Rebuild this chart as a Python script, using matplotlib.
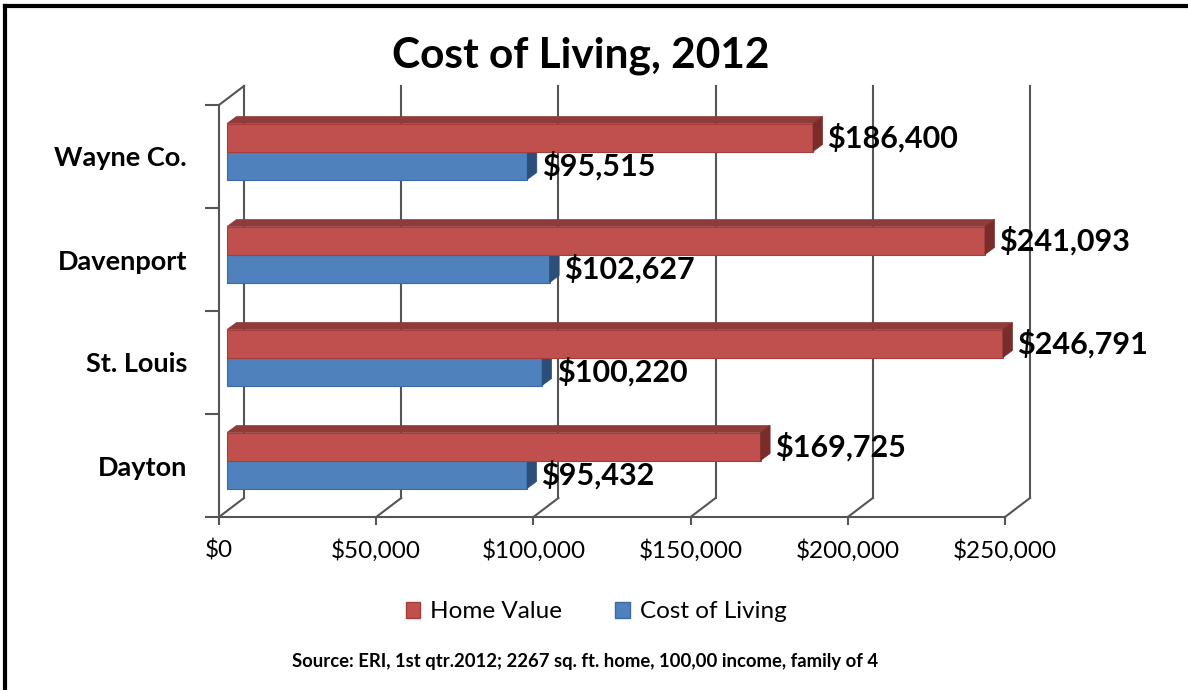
import matplotlib.pyplot as plt
from matplotlib.patches import Polygon, Patch
from matplotlib.ticker import FuncFormatter

plt.rcParams['font.family'] = ['Lato', 'DejaVu Sans']

cities = ['Dayton', 'St. Louis', 'Davenport', 'Wayne Co.']
home_value = [169725, 246791, 241093, 186400]
cost_of_living = [95432, 100220, 102627, 95515]
x_ticks = [0, 50000, 100000, 150000, 200000, 250000]

red, red_top, red_side, red_edge = '#C0504D', '#8E3B39', '#7A2C2A', '#A53E3B'
blue, blue_side, blue_edge = '#4F81BD', '#2C4E79', '#3C6AA6'
grid_col = '#555555'

fig = plt.figure(figsize=(11.88, 6.90), dpi=100)
W, H = 1188, 690

# front plane: $0 at x=219px, $250k at 1005px; y 0..4 -> 517..105px
px = 250000 / 786          # dollars per pixel
py = 1 / 103               # category units per pixel
ax = fig.add_axes([219 / W, (H - 517) / H, 811 / W, 430 / H])
ax.set_xlim(0, 811 * px)
ax.set_ylim(0, 430 * py)

# depth of the 3D box and of the bars
DX, DY = 25 * px, 19 * py
ox, oy = 8 * px, 5 * py
bx, by = 9.5 * px, 7 * py
h = 28 * py

# back wall gridlines and floor diagonals
for v in x_ticks:
    ax.plot([v, v + DX], [0, DY], color=grid_col, lw=1.5, zorder=1, clip_on=False)
    ax.plot([v + DX, v + DX], [DY, 4 + DY], color=grid_col, lw=1.5, zorder=1, clip_on=False)
ax.plot([0, DX], [4, 4 + DY], color=grid_col, lw=1.5, zorder=1, clip_on=False)

for i, (hv, cl) in enumerate(zip(home_value, cost_of_living)):
    c = i + 0.5 + oy
    # cost of living (lower bar)
    b0, b1 = c - h, c
    ax.barh(c - h / 2, cl, height=h, left=ox, color=blue, edgecolor=blue_edge,
            lw=0.8, zorder=3)
    ax.add_patch(Polygon([(ox + cl, b0), (ox + cl, b1), (ox + cl + bx, b1 + by),
                          (ox + cl + bx, b0 + by)], closed=True, fc=blue_side,
                         ec=blue_side, lw=0.5, zorder=3))
    ax.text(ox + cl + bx + 5 * px, c - h / 2, f'${cl:,.0f}', fontsize=22,
            fontweight='bold', va='center', ha='left', zorder=6)
    # home value (upper bar)
    r0, r1 = c, c + h
    ax.barh(c + h / 2, hv, height=h, left=ox, color=red, edgecolor=red_edge,
            lw=0.8, zorder=4)
    ax.add_patch(Polygon([(ox, r1), (ox + bx, r1 + by), (ox + hv + bx, r1 + by),
                          (ox + hv, r1)], closed=True, fc=red_top, ec=red_top,
                         lw=0.5, zorder=4))
    ax.add_patch(Polygon([(ox + hv, r0), (ox + hv, r1), (ox + hv + bx, r1 + by),
                          (ox + hv + bx, r0 + by)], closed=True, fc=red_side,
                         ec=red_side, lw=0.5, zorder=4))
    ax.text(ox + hv + bx + 5 * px, c + h / 2, f'${hv:,.0f}', fontsize=22,
            fontweight='bold', va='center', ha='left', zorder=6)

for s in ['top', 'right']:
    ax.spines[s].set_visible(False)
ax.spines['left'].set_bounds(0, 4)
ax.spines['bottom'].set_bounds(0, 250000)
for s in ['left', 'bottom']:
    ax.spines[s].set_color(grid_col)
    ax.spines[s].set_linewidth(1.5)

ax.set_xticks(x_ticks)
ax.xaxis.set_major_formatter(FuncFormatter(lambda v, p: f'${v:,.0f}'))
ax.tick_params(axis='x', length=6, width=1.5, color=grid_col, pad=10, labelsize=17.5)

ax.set_yticks([0, 1, 2, 3, 4])
ax.set_yticklabels([])
ax.set_yticks([i + 0.5 for i in range(4)], minor=True)
ax.set_yticklabels(cities, minor=True, fontsize=19.5, fontweight='bold')
ax.tick_params(axis='y', which='major', length=10, width=1.5, color=grid_col)
ax.tick_params(axis='y', which='minor', length=0, pad=23)

fig.text(581 / W, 1 - 56 / H, 'Cost of Living, 2012', ha='center', va='center',
         fontsize=30.5, fontweight='bold')

handles = [Patch(fc=red, ec=red_edge, label='Home Value'),
           Patch(fc=blue, ec=blue_edge, label='Cost of Living')]
fig.legend(handles=handles, loc='center', bbox_to_anchor=(596 / W, 1 - 612 / H),
           ncol=2, frameon=False, fontsize=17.5, handlelength=0.6, handleheight=0.6,
           handletextpad=0.4, columnspacing=2.2)

fig.text(585 / W, 1 - 662 / H,
         'Source: ERI, 1st qtr.2012; 2267 sq. ft. home, 100,00 income, family of 4',
         ha='center', va='center', fontsize=13.3, fontweight='bold')

# frame along the top and left edge
fig.add_artist(plt.Line2D([5 / W, 1], [1 - 6 / H, 1 - 6 / H], color='black', lw=3))
fig.add_artist(plt.Line2D([5 / W, 5 / W], [0, 1 - 6 / H], color='black', lw=3))

fig.savefig('out.png', dpi=100)
